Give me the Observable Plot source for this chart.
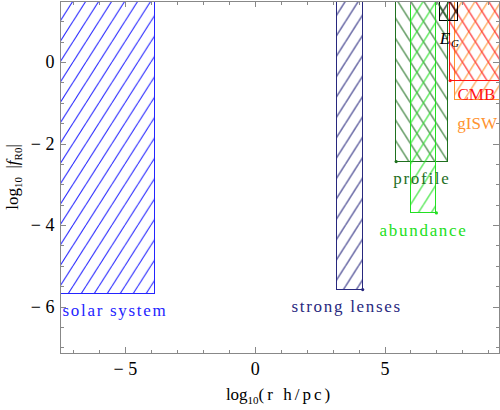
<!DOCTYPE html>
<html><head><meta charset="utf-8">
<script src="https://cdn.jsdelivr.net/npm/d3@7"></script>
<script src="https://cdn.jsdelivr.net/npm/@observablehq/plot@0.6"></script>
<style>body{margin:0;background:#fff} svg{display:block}</style>
</head><body><div id="chart"></div>
<script>
// ---- data ----
const regions = ["solar system", "strong lenses", "profile", "abundance", "E_G", "CMB", "gISW"];
const logRMin = [-7.5, 3.14, 5.43, 5.99, 7.12, 7.51, 7.69];
const logRMax = [-3.86, 4.14, 7.41, 6.98, 7.81, 9.41, 9.41];
const logFMin = [-5.67, -5.57, -2.43, -3.69, 1.01, -0.44, -0.91];
const logFMax = [1.5, 1.5, 1.5, 1.5, 1.5, 1.5, 1.5];
const xDomain = [-7.5, 9.41];
const yDomain = [-7.14, 1.5];
const xTicks = [-5, 0, 5];
const yTicks = [-6, -4, -2, 0];
const xMinorTicks = [-7, -6, -4, -3, -2, -1, 1, 2, 3, 4, 6, 7, 8, 9];
const yMinorTicks = [-7, -6.5, -5.5, -5, -4.5, -3.5, -3, -2.5, -1.5, -1, -0.5, 0.5, 1];
const hatchStep = 0.5; // hatch spacing in data units

// ---- styles ----
const look = {
  "solar system":  {color: "#2424ff", hatch: "fwd",   label: "solar system",  spaced: true, anchor: "start", dx: 2, dy: 17, dot: null},
  "strong lenses": {color: "#28287e", hatch: "fwd",   label: "strong lenses", spaced: true, anchor: "middle", dx: -3, dy: 17.5, dot: "right"},
  "profile":       {color: "#1f701f", hatch: "back",  label: "profile",       spaced: true, anchor: "middle", dx: 0, dy: 17, dot: "left"},
  "abundance":     {color: "#22e022", hatch: "fwd",   label: "abundance",     spaced: true, anchor: "middle", dx: 0, dy: 17.5, dot: "right"},
  "E_G":           {color: "#000000", hatch: "cross", label: null, dot: null},
  "CMB":           {color: "#ff1414", hatch: "back",  label: "CMB",           spaced: false, anchor: "middle", dx: 1.5, dy: 14, dot: "left"},
  "gISW":          {color: "#ff9330", hatch: "fwd",   label: "gISW",          spaced: false, anchor: "middle", dx: 0, dy: 24, dot: null}
};
const drawOrder = [6, 5, 4, 2, 3, 1, 0];
const gray = "#888888";
const frameH = 410 - 57 - 1, frameW = 500 - 60 - 1;
const fmt = d => d < 0 ? "\u2212 " + (-d) : String(d);
const crisp = {shapeRendering: "crispEdges"};

const marks = [];
for (const i of drawOrder) {
  const s = look[regions[i]];
  marks.push(Plot.rect([i], {
    x1: j => logRMin[j], x2: j => logRMax[j], y1: j => logFMin[j], y2: j => logFMax[j],
    fill: `url(#hatch-${i})`, stroke: s.color, strokeWidth: 1, ...crisp
  }));
}
for (const i of drawOrder) {
  const s = look[regions[i]];
  if (!s.dot) continue;
  marks.push(Plot.dot([i], {x: j => s.dot === "right" ? logRMax[j] : logRMin[j], y: j => logFMin[j], r: 1.6, fill: s.color, stroke: null}));
}
for (const i of drawOrder) {
  const s = look[regions[i]];
  if (!s.label) continue;
  marks.push(Plot.text([i], {
    x: j => s.anchor === "start" ? logRMin[j] : (logRMin[j] + Math.min(logRMax[j], xDomain[1])) / 2,
    y: j => logFMin[j], text: () => s.label, textAnchor: s.anchor, dx: s.dx, dy: s.dy,
    fill: s.color, fontSize: 17
  }));
}
// E_G label
{
  const i = regions.indexOf("E_G");
  const mx = j => (logRMin[j] + logRMax[j]) / 2;
  marks.push(Plot.text([i], {x: mx, y: j => logFMin[j], text: () => "E", dx: -4, dy: 17, fontSize: 17, fontStyle: "italic", fill: "#000"}));
  marks.push(Plot.text([i], {x: mx, y: j => logFMin[j], text: () => "G", dx: 2, dy: 22, textAnchor: "start", fontSize: 11, fontStyle: "italic", fill: "#000"}));
}
// ticks (inward)
marks.push(
  Plot.tickX(xMinorTicks, {x: d => d, stroke: gray, insetTop: frameH - 3.5, ...crisp}),
  Plot.tickX(xMinorTicks, {x: d => d, stroke: gray, insetBottom: frameH - 3.5, ...crisp}),
  Plot.tickX(xTicks, {x: d => d, stroke: gray, insetTop: frameH - 6, ...crisp}),
  Plot.tickX(xTicks, {x: d => d, stroke: gray, insetBottom: frameH - 6, ...crisp}),
  Plot.tickY(yMinorTicks, {y: d => d, stroke: gray, insetRight: frameW - 3.5, ...crisp}),
  Plot.tickY(yMinorTicks, {y: d => d, stroke: gray, insetLeft: frameW - 3.5, ...crisp}),
  Plot.tickY(yTicks, {y: d => d, stroke: gray, insetRight: frameW - 6, ...crisp}),
  Plot.tickY(yTicks, {y: d => d, stroke: gray, insetLeft: frameW - 6, ...crisp}),
  Plot.frame({stroke: gray, ...crisp}),
  Plot.axisX(xTicks, {anchor: "bottom", tickSize: 0, tickPadding: 9, tickFormat: fmt, label: null, fontSize: 18, fill: "#000"}),
  Plot.axisY(yTicks, {anchor: "left", tickSize: 0, tickPadding: 6, tickFormat: fmt, label: null, fontSize: 18, fill: "#000"})
);

const fig = Plot.plot({
  width: 500, height: 410,
  marginLeft: 60, marginRight: 1, marginTop: 1, marginBottom: 57,
  style: {fontFamily: "'Liberation Serif', 'DejaVu Serif', serif", fontSize: "17px", background: "#fff", color: "#000"},
  x: {domain: xDomain},
  y: {domain: yDomain},
  marks
});
document.getElementById("chart").appendChild(fig);

// ---- hatch patterns (spacing from the scales: 45° in data space) ----
const xs = fig.scale("x"), ys = fig.scale("y");
const w = Math.abs(xs.apply(hatchStep) - xs.apply(0));
const h = Math.abs(ys.apply(0) - ys.apply(hatchStep));
const ox = xs.apply(0), oy = ys.apply(0);
let defs = "";
regions.forEach((name, i) => {
  const s = look[name];
  const L = [];
  if (s.hatch === "fwd" || s.hatch === "cross") L.push([-w, h, 0, 0], [0, h, w, 0], [w, h, 2 * w, 0]);
  if (s.hatch === "back" || s.hatch === "cross") L.push([-w, 0, 0, h], [0, 0, w, h], [w, 0, 2 * w, h]);
  defs += `<pattern id="hatch-${i}" patternUnits="userSpaceOnUse" x="${ox}" y="${oy}" width="${w}" height="${h}">` +
    L.map(([a, b, c, d]) => `<line x1="${a}" y1="${b}" x2="${c}" y2="${d}" stroke="${s.color}" stroke-width="1.1"/>`).join("") +
    `</pattern>`;
});
const svg = d3.select(fig);
svg.insert("defs", ":first-child").html(defs);
const spacedLabels = new Set(regions.filter(n => look[n].spaced).map(n => look[n].label));
svg.selectAll("text").filter(function () { return spacedLabels.has(this.textContent); })
  .attr("letter-spacing", "1.7px").style("letter-spacing", "1.7px");

// ---- axis titles ----
const cx = (xs.apply(xDomain[0]) + xs.apply(xDomain[1])) / 2;
const xl = svg.append("text").attr("x", cx).attr("y", 400).attr("text-anchor", "middle")
  .attr("font-family", "'Liberation Serif', serif").attr("font-size", 17).attr("fill", "#000");
xl.append("tspan").text("log");
xl.append("tspan").attr("font-size", 11).attr("dy", 4).text("10");
xl.append("tspan").attr("dy", -4).attr("letter-spacing", "3px").text("(r h/pc)");

const yl = svg.append("text").attr("transform", `translate(18,177) rotate(-90)`).attr("text-anchor", "middle")
  .attr("font-family", "'Liberation Serif', serif").attr("font-size", 17).attr("fill", "#000");
yl.append("tspan").text("log");
yl.append("tspan").attr("font-size", 11).attr("dy", 4).text("10");
yl.append("tspan").attr("dy", -4).text("\u2002|");
yl.append("tspan").attr("font-style", "italic").text("f");
yl.append("tspan").attr("font-size", 11).attr("dy", 4).text("R0");
yl.append("tspan").attr("dy", -4).text("|");
</script></body></html>
